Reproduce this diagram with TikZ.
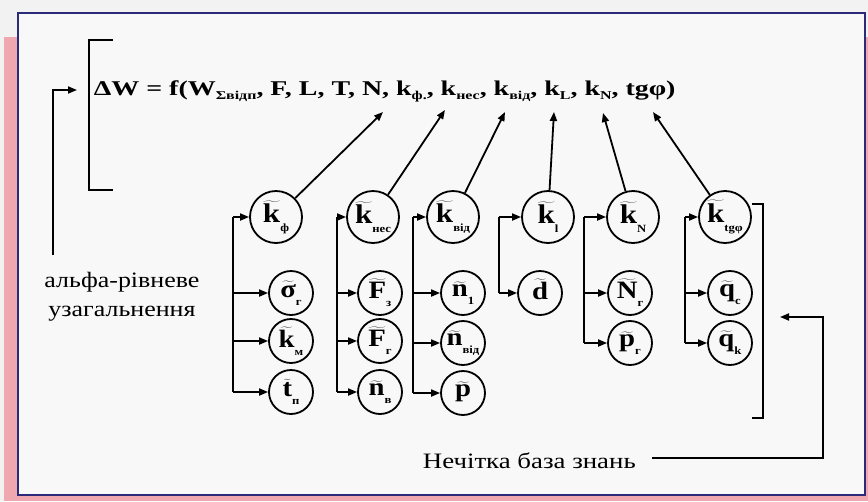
\documentclass[tikz,border=0pt]{standalone}
\usepackage{fontspec}
\setmainfont{Liberation Serif}
\usetikzlibrary{arrows.meta}
\definecolor{bgc}{HTML}{F2F2F2}
\definecolor{pinkc}{HTML}{F0A8B0}
\definecolor{navy}{HTML}{2B2B7A}
\definecolor{innerc}{HTML}{F8F8F8}
\newcommand\lsub[1]{\raisebox{-0.7ex}{\fontsize{11}{11}\selectfont #1}}
\newcommand\fsub[1]{\raisebox{-0.5ex}{\fontsize{12}{12}\selectfont #1}}
\newcommand\tl[1]{$\widetilde{\mbox{#1}}$}
\newcommand\cl[2]{\scalebox{1.15}[1]{\tl{#1}\lsub{#2}}}
\begin{document}
\begin{tikzpicture}[x=1pt,y=-1pt,line width=1.8pt,
  arr/.style={-{Triangle[length=9pt,width=7pt]}},
  bigc/.style={circle,draw,line width=1.8pt,minimum size=52pt,inner sep=0pt,font=\fontsize{27}{27}\selectfont\bfseries},
  smc/.style={circle,draw,line width=1.8pt,minimum size=44pt,inner sep=0pt,font=\fontsize{25}{25}\selectfont\bfseries},
  lbl/.style={font=\fontsize{22}{29}\selectfont,inner sep=0pt}]
\useasboundingbox (0,0) rectangle (868,501);
\fill[bgc] (0,0) rectangle (868,501);
\fill[pinkc] (4,37) rectangle (868,501);
\draw[navy,fill=innerc,line width=2pt] (18,13) rectangle (865,495);

% formula
\node[anchor=base west,inner sep=0pt,font=\fontsize{21}{21}\selectfont\bfseries] (f) at (93,95)
 {\scalebox{1.33}[1]{ΔW = f(W\fsub{Σвідп}, F, L, T, N, k\fsub{ф.}, k\fsub{нес}, k\fsub{від}, k\fsub{L}, k\fsub{N}, tgφ)}};
\draw[line width=1.8pt] (113,40) -- (89,40) -- (89,190) -- (113,190);

% left feedback
\node[lbl,align=center] (alpha) at (122,297) {\scalebox{1.18}[1]{альфа-рівневе}\\\scalebox{1.18}[1]{узагальнення}};
\coordinate (la) at (53,255);
\coordinate (lb) at (77,90);
\draw[arr] (la) |- (lb);

% knowledge base
\node[lbl,anchor=base west] (kb) at (422,468) {\scalebox{1.22}[1]{Нечітка база знань}};
\coordinate (kbe) at (652,458);
\coordinate (rc) at (823,458);
\coordinate (rt) at (780,317);
\draw[arr] (kbe) -- (rc) |- (rt);
\draw (752,204) -- (763,204) -- (763,418) -- (752,418);

% circles
\node[bigc] (c1a) at (276,217) {\cl{k}{ф}};
\node[smc] (c1b) at (291,293) {\cl{σ}{г}};
\node[smc] (c1c) at (291,341) {\cl{k}{м}};
\node[smc] (c1d) at (291,392) {\cl{t}{п}};
\node[bigc] (c2a) at (373,217) {\cl{k}{нес}};
\node[smc] (c2b) at (380,293) {\cl{F}{з}};
\node[smc] (c2c) at (380,341) {\cl{F}{г}};
\node[smc] (c2d) at (380,392) {\cl{n}{в}};
\node[bigc] (c3a) at (453,217) {\cl{k}{від}};
\node[smc] (c3b) at (463,293) {\cl{n}{1}};
\node[smc] (c3c) at (463,343) {\cl{n}{від}};
\node[smc] (c3d) at (463,393) {\cl{p}{}};
\node[bigc] (c4a) at (548,217) {\cl{k}{l}};
\node[smc] (c4b) at (540,293) {\cl{d}{}};
\node[bigc] (c5a) at (633,217) {\cl{k}{N}};
\node[smc] (c5b) at (630,293) {\cl{N}{г}};
\node[smc] (c5c) at (630,343) {\cl{p}{г}};
\node[bigc] (c6a) at (725,217) {\cl{k}{tgφ}};
\node[smc] (c6b) at (730,293) {\cl{q}{c}};
\node[smc] (c6c) at (730,343) {\cl{q}{k}};

% verticals
\coordinate (v1) at (233,217);
\coordinate (v2) at (337,217);
\coordinate (v3) at (413,217);
\coordinate (v4) at (499,217);
\coordinate (v5) at (584,217);
\coordinate (v6) at (685,217);
\draw (c1a.west -| v1) -- (c1d.west -| v1);
\draw (c2a.west -| v2) -- (c2d.west -| v2);
\draw (c3a.west -| v3) -- (c3d.west -| v3);
\draw (c4a.west -| v4) -- (c4b.west -| v4);
\draw (c5a.west -| v5) -- (c5c.west -| v5);
\draw (c6a.west -| v6) -- (c6c.west -| v6);
\foreach \n in {a,b,c,d} \draw[arr] (c1\n.west -| v1) -- (c1\n.west);
\foreach \n in {a,b,c,d} \draw[arr] (c2\n.west -| v2) -- (c2\n.west);
\foreach \n in {a,b,c,d} \draw[arr] (c3\n.west -| v3) -- (c3\n.west);
\foreach \n in {a,b} \draw[arr] (c4\n.west -| v4) -- (c4\n.west);
\foreach \n in {a,b,c} \draw[arr] (c5\n.west -| v5) -- (c5\n.west);
\foreach \n in {a,b,c} \draw[arr] (c6\n.west -| v6) -- (c6\n.west);

% arrows to formula
\coordinate (t1) at (383,112);
\coordinate (t2) at (445,110);
\coordinate (t3) at (505,112);
\coordinate (t4) at (554,112);
\coordinate (t5) at (603,113);
\coordinate (t6) at (653,112);
\draw[arr] (c1a) -- (t1);
\draw[arr] (c2a) -- (t2);
\draw[arr] (c3a) -- (t3);
\draw[arr] (c4a) -- (t4);
\draw[arr] (c5a) -- (t5);
\draw[arr] (c6a) -- (t6);
\end{tikzpicture}
\end{document}
